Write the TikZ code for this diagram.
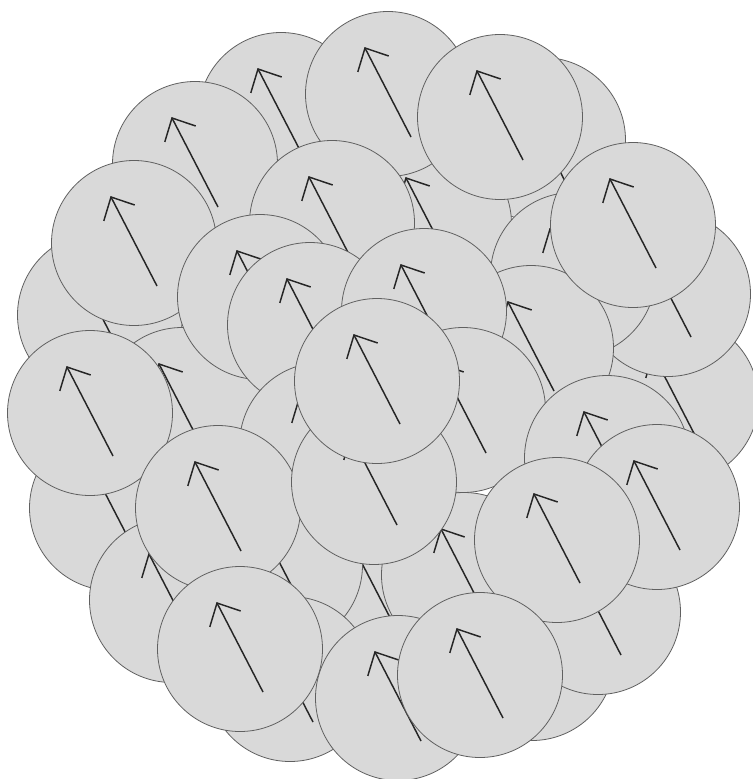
\documentclass[tikz,border=0pt]{standalone}
\definecolor{bubfill}{HTML}{D9D9D9}
\definecolor{bubline}{HTML}{606060}
\definecolor{spincol}{HTML}{262626}
\tikzset{
  bub/.style={circle, fill=bubfill, draw=bubline, line width=0.6pt, inner sep=0pt, minimum size=123.75pt},
  spin/.style={draw=spincol, line width=1.1pt, line join=miter, line cap=butt}
}
\newcommand{\bubble}[3]{%
  \node[bub] (#1) at (#2,#3) {};
  \draw[spin] ([shift={(23,43)}]#1.center) -- ([shift={(-23,-46)}]#1.center);
  \draw[spin] ([shift={(0.7,-38)}]#1.center) -- ([shift={(-23,-46)}]#1.center) -- ([shift={(-30.2,-22.1)}]#1.center);
}
\begin{document}
\begin{tikzpicture}[x=0.75pt, y=-0.75pt]
\fill[white] (0,0) rectangle (753,779);
\useasboundingbox (0,0) rectangle (753,779);
\bubble{ee}{375}{590}
\bubble{m}{100}{315}
\bubble{a}{281}{115}
\bubble{e}{543}{140}
\bubble{f}{429}{224}
\bubble{b}{388}{94}
\bubble{d}{500}{117}
\bubble{k}{195}{164}
\bubble{l}{134}{243}
\bubble{c}{332}{223}
\bubble{o}{182}{410}
\bubble{j}{260}{297}
\bubble{i}{310}{325}
\bubble{aa}{676}{400}
\bubble{w}{668}{294}
\bubble{u}{573}{275}
\bubble{t}{531}{348}
\bubble{g}{424}{311}
\bubble{v}{633}{225}
\bubble{bb}{112}{508}
\bubble{n}{90}{413}
\bubble{q}{322}{445}
\bubble{s}{463}{410}
\bubble{x}{607}{458}
\bubble{dd}{532}{658}
\bubble{cc}{598}{612}
\bubble{sb}{464}{575}
\bubble{rb}{280}{565}
\bubble{rc}{290}{679}
\bubble{pb}{172}{600}
\bubble{p}{218}{508}
\bubble{r}{374}{482}
\bubble{h}{377}{381}
\bubble{y}{657}{507}
\bubble{z}{557}{540}
\bubble{bc}{398}{698}
\bubble{bd}{480}{675}
\bubble{pc}{240}{649}
\end{tikzpicture}
\end{document}
